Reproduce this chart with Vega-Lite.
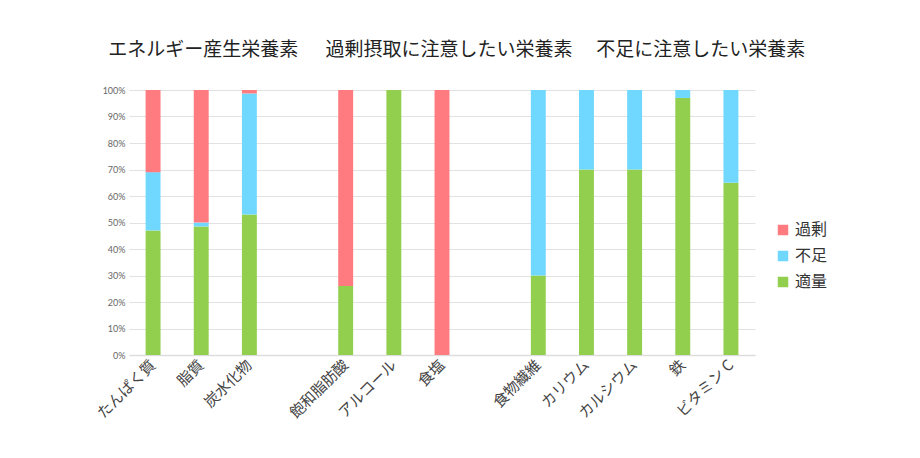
{
  "$schema": "https://vega.github.io/schema/vega-lite/v6.json",
  "width": 626,
  "height": 265,
  "autosize": {"type": "none"},
  "padding": {"left": 129, "top": 90, "right": 165, "bottom": 103},
  "background": "white",
  "config": {"view": {"stroke": null}},
  "resolve": {"axis": {"x": "independent", "y": "independent"}},
  "layer": [
    {
      "data": {"values": [
        {"name": "たんぱく質", "type": "適量", "rank": 1, "v": 0.47},
        {"name": "たんぱく質", "type": "不足", "rank": 2, "v": 0.22},
        {"name": "たんぱく質", "type": "過剰", "rank": 3, "v": 0.31},
        {"name": "脂質", "type": "適量", "rank": 1, "v": 0.485},
        {"name": "脂質", "type": "不足", "rank": 2, "v": 0.015},
        {"name": "脂質", "type": "過剰", "rank": 3, "v": 0.50},
        {"name": "炭水化物", "type": "適量", "rank": 1, "v": 0.53},
        {"name": "炭水化物", "type": "不足", "rank": 2, "v": 0.457},
        {"name": "炭水化物", "type": "過剰", "rank": 3, "v": 0.013},
        {"name": "飽和脂肪酸", "type": "適量", "rank": 1, "v": 0.26},
        {"name": "飽和脂肪酸", "type": "過剰", "rank": 3, "v": 0.74},
        {"name": "アルコール", "type": "適量", "rank": 1, "v": 1.0},
        {"name": "食塩", "type": "過剰", "rank": 3, "v": 1.0},
        {"name": "食物繊維", "type": "適量", "rank": 1, "v": 0.30},
        {"name": "食物繊維", "type": "不足", "rank": 2, "v": 0.70},
        {"name": "カリウム", "type": "適量", "rank": 1, "v": 0.70},
        {"name": "カリウム", "type": "不足", "rank": 2, "v": 0.30},
        {"name": "カルシウム", "type": "適量", "rank": 1, "v": 0.70},
        {"name": "カルシウム", "type": "不足", "rank": 2, "v": 0.30},
        {"name": "鉄", "type": "適量", "rank": 1, "v": 0.97},
        {"name": "鉄", "type": "不足", "rank": 2, "v": 0.03},
        {"name": "ビタミンC", "type": "適量", "rank": 1, "v": 0.65},
        {"name": "ビタミンC", "type": "不足", "rank": 2, "v": 0.35}
      ]},
      "mark": {"type": "bar", "width": {"band": 0.31}},
      "encoding": {
        "x": {
          "field": "name", "type": "nominal",
          "scale": {"domain": ["たんぱく質", "脂質", "炭水化物", " ", "飽和脂肪酸", "アルコール", "食塩", "  ", "食物繊維", "カリウム", "カルシウム", "鉄", "ビタミンC"], "paddingInner": 0, "paddingOuter": 0},
          "axis": {"title": null, "labelAngle": -45, "labelAlign": "right", "labelBaseline": "middle", "labelFont": "Noto Sans CJK JP", "labelFontSize": 15, "labelColor": "#444", "labelPadding": 7, "labelOverlap": false, "ticks": false, "domainColor": "#dddddd", "domainWidth": 1.5, "labelExpr": "datum.label == 'ビタミンC' ? 'ビタミン C' : datum.label"}
        },
        "y": {
          "field": "v", "type": "quantitative", "stack": "zero",
          "scale": {"domain": [0, 1]},
          "axis": {"title": null, "format": ".0%", "values": [0, 0.1, 0.2, 0.3, 0.4, 0.5, 0.6, 0.7, 0.8, 0.9, 1.0], "labelOverlap": false, "labelFont": "Lato", "labelFontSize": 9, "labelColor": "#666", "ticks": false, "domain": false, "gridColor": "#e2e2e2", "labelPadding": 4}
        },
        "color": {
          "field": "type", "type": "nominal",
          "scale": {"domain": ["過剰", "不足", "適量"], "range": ["#ff7b80", "#70d8ff", "#92cf4e"]},
          "legend": {"title": null, "orient": "none", "legendX": 646, "legendY": 132, "symbolType": "square", "symbolSize": 110, "symbolStrokeWidth": 0, "labelFont": "Noto Sans CJK JP", "labelFontSize": 16, "labelColor": "#333", "rowPadding": 10, "labelOffset": 4}
        },
        "order": {"field": "rank", "type": "quantitative", "sort": "ascending"}
      }
    },
    {
      "data": {"values": [{"name": "脂質", "label": "エネルギー産生栄養素", "h": 1.15}]},
      "mark": {"type": "text", "font": "Noto Sans CJK JP", "fontSize": 19, "color": "#222", "dx": 2, "baseline": "middle"},
      "encoding": {"x": {"field": "name", "type": "nominal", "axis": null}, "y": {"field": "h", "type": "quantitative", "axis": null}, "text": {"field": "label"}}
    },
    {
      "data": {"values": [{"name": "食塩", "label": "過剰摂取に注意したい栄養素", "h": 1.15}]},
      "mark": {"type": "text", "font": "Noto Sans CJK JP", "fontSize": 19, "color": "#222", "dx": 7, "baseline": "middle"},
      "encoding": {"x": {"field": "name", "type": "nominal", "axis": null}, "y": {"field": "h", "type": "quantitative", "axis": null}, "text": {"field": "label"}}
    },
    {
      "data": {"values": [{"name": "鉄", "label": "不足に注意したい栄養素", "h": 1.15}]},
      "mark": {"type": "text", "font": "Noto Sans CJK JP", "fontSize": 19, "color": "#222", "dx": 18, "baseline": "middle"},
      "encoding": {"x": {"field": "name", "type": "nominal", "axis": null}, "y": {"field": "h", "type": "quantitative", "axis": null}, "text": {"field": "label"}}
    }
  ]
}
